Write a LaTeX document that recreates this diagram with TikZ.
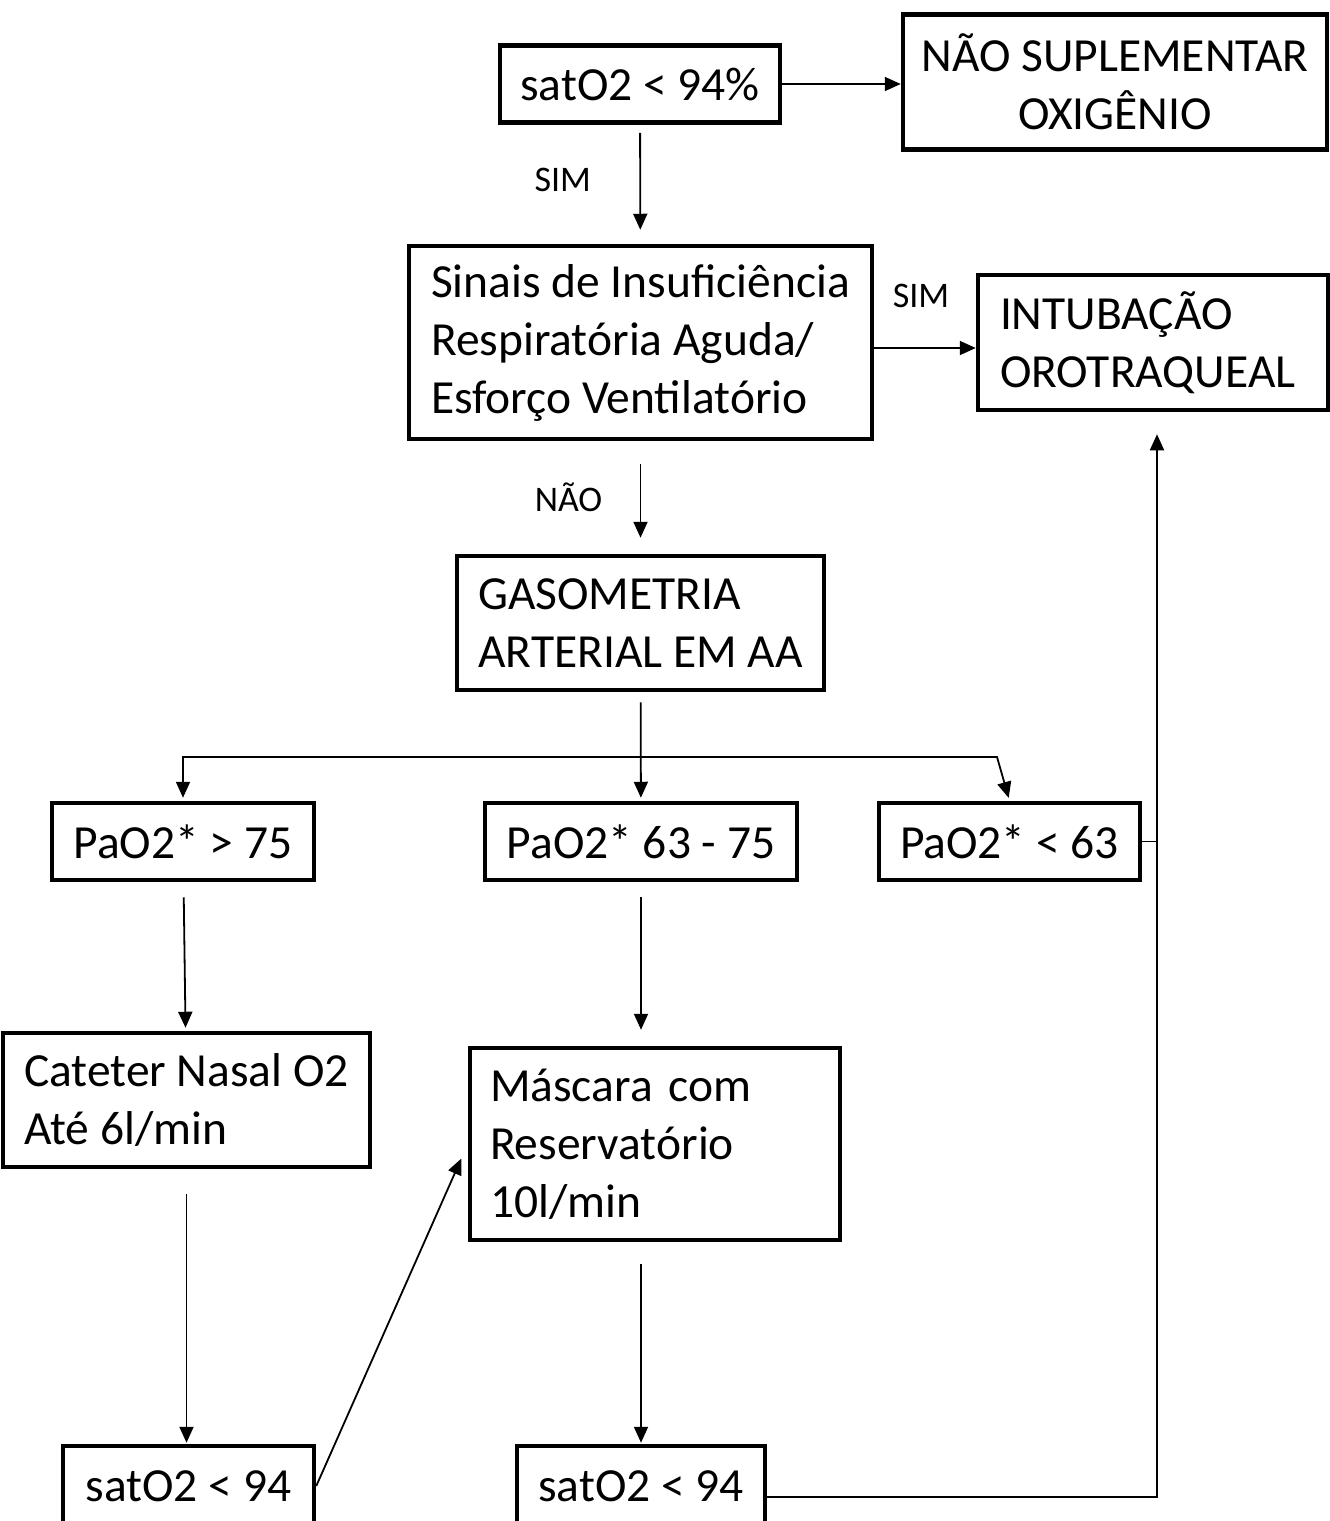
\documentclass[tikz,border=0pt]{standalone}
\usepackage{fontspec}
\setmainfont{Carlito}
\usepackage{tikz}
\usetikzlibrary{arrows.meta}

\newcommand{\boxfont}{\fontsize{47.5}{58}\selectfont}
\newcommand{\tagfont}{\fontsize{36}{43}\selectfont}

\tikzset{
  flowbox/.style={draw, line width=4.5pt, inner xsep=0pt, inner ysep=0pt, align=left, font=\boxfont},
  midbox/.style={flowbox, align=center},
  link/.style={->, line width=1.8pt},
  tag/.style={font=\tagfont}
}

\begin{document}
\begin{tikzpicture}[x=1pt, y=-1pt, >={Triangle[length=16pt,width=14pt]}]
  \useasboundingbox (0,0) rectangle (1330,1521);
  \clip (0,0) rectangle (1330,1521);

  \node[midbox, minimum width=280pt, minimum height=77pt] (sat) at (640,84) {satO2 < 94\%};
  \node[midbox, minimum width=424pt, minimum height=135pt] (nao) at (1115,82) {NÃO SUPLEMENTAR\\OXIGÊNIO};
  \node[flowbox, minimum width=463pt, minimum height=193pt] (sinais) at (640.5,342.5) {Sinais de Insuficiência\\Respiratória Aguda/\\Esforço Ventilatório};
  \node[flowbox, inner xsep=22pt, text width=306pt, minimum height=135pt] (intub) at (1153,342.5) {INTUBAÇÃO\\OROTRAQUEAL};
  \node[flowbox, minimum width=367pt, minimum height=134pt] (gaso) at (640.5,623) {GASOMETRIA\\ARTERIAL EM AA};

  \node[midbox, minimum width=262pt, minimum height=77pt] (pa1) at (183,841.5) {PaO2* > 75};
  \node[midbox, minimum width=312pt, minimum height=77pt] (pa2) at (641,841.5) {PaO2* 63 - 75};
  \node[midbox, minimum width=261pt, minimum height=77pt] (pa3) at (1009.5,841.5) {PaO2* < 63};

  \node[flowbox, minimum width=367pt, minimum height=134pt] (cat) at (186.5,1100) {Cateter Nasal O2\\Até 6l/min};
  \node[flowbox, inner xsep=20pt, text width=330pt, minimum height=192pt] (mask) at (655,1144) {Máscara com\\Reservatório\\10l/min};

  \node[midbox, minimum width=251pt, minimum height=80pt] (s1) at (188.5,1486) {satO2 < 94};
  \node[midbox, minimum width=248pt, minimum height=80pt] (s2) at (641,1486) {satO2 < 94};

  \coordinate (split) at (640,757);
  \coordinate (bendR) at (997,757);

  \draw[link] (sat) -- (sat -| nao.west);
  \draw[link, shorten <=8pt, shorten >=14pt] (sat) -- (sinais)
    node[midway, left=45pt, yshift=4pt, tag] {SIM};
  \draw[link] (sinais.east |- 0,348) -- (intub.west |- 0,348)
    node[midway, above=36pt, xshift=-4pt, tag] {SIM};
  \draw[link, shorten <=23pt, shorten >=16pt] (sinais) -- (gaso)
    node[midway, left=34pt, tag] {NÃO};

  \draw[link, shorten <=10pt, shorten >=3pt] (gaso) -- (pa2);
  \draw[link, shorten >=3pt] (split) -| (pa1.north);
  \draw[link, shorten >=3pt] (split) -- (bendR) -- (pa3.north);

  \draw[link, shorten <=15pt, shorten >=3pt] (pa1) -- (cat);
  \draw[link, shorten <=15pt, shorten >=16pt] (pa2.south) -- (pa2.south |- mask.north);
  \draw[link, shorten <=25pt, shorten >=1pt] (cat.south) -- (cat.south |- s1.north);
  \draw[link, shorten >=16pt] (s1.east) -- (mask.west);
  \draw[link, shorten <=22pt, shorten >=1pt] (s2.north |- mask.south) -- (s2.north);

  \draw[link, shorten >=22pt] (s2.east |- 0,1497) -| (intub.south -| 1157,0);
  \draw[line width=1.8pt] (pa3.east) -- (1157,841.5);
\end{tikzpicture}
\end{document}
